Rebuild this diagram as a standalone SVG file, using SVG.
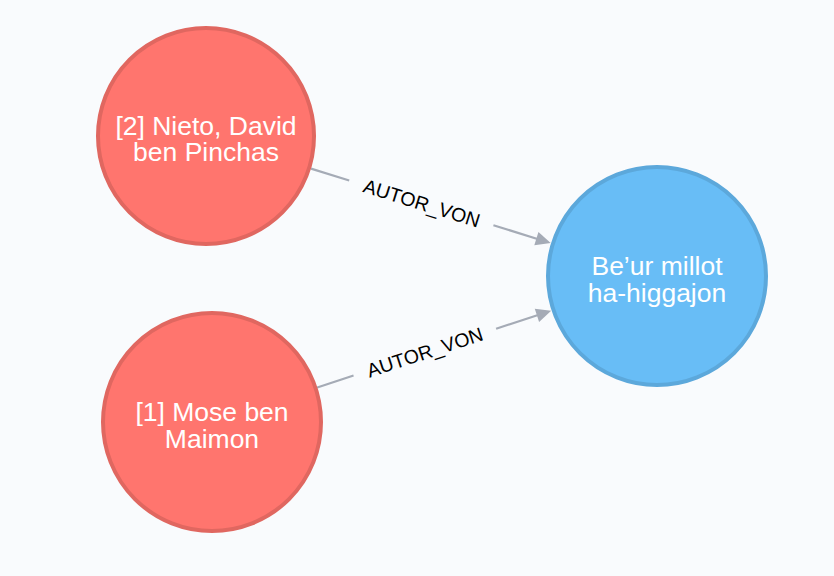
<svg xmlns="http://www.w3.org/2000/svg" width="834" height="576" viewBox="0 0 834 576">
<style>
.bg{fill:#F9FBFD}
.red{fill:#FF756E;stroke:#E06760;stroke-width:4}
.blue{fill:#68BDF6;stroke:#5CA8DB;stroke-width:4}
.cap{font-family:"Liberation Sans",Arial,sans-serif;font-size:26.5px;fill:#FFFFFF;text-anchor:middle}
.shaft{stroke:#A5ABB6;stroke-width:2.2;fill:none}
.head{fill:#A5ABB6}
.rel{font-family:"Liberation Sans",Arial,sans-serif;font-size:19.5px;fill:#000000;text-anchor:middle}
</style>
<rect class="bg" x="0" y="0" width="834" height="576"/>
<g id="connectors">
  <g id="edge1" transform="translate(311,168.6) rotate(17.25)">
    <line class="shaft" x1="0" y1="0" x2="40" y2="0"/>
    <line class="shaft" x1="191" y1="0" x2="238" y2="0"/>
    <polygon class="head" points="251,0 236,-7 236,7"/>
    <text class="rel" x="116" y="7">AUTOR_VON</text>
  </g>
  <g id="edge2" transform="translate(316.5,387.7) rotate(-18.17)">
    <line class="shaft" x1="0" y1="0" x2="39" y2="0"/>
    <line class="shaft" x1="189" y1="0" x2="234" y2="0"/>
    <polygon class="head" points="247,0 232,-7 232,7"/>
    <text class="rel" x="114" y="7">AUTOR_VON</text>
  </g>
</g>
<g id="node-nieto">
  <circle class="red" cx="206" cy="136" r="108"/>
  <text class="cap"><tspan x="206" y="135">[2] Nieto, David</tspan><tspan x="206" y="161">ben Pinchas</tspan></text>
</g>
<g id="node-mose">
  <circle class="red" cx="212" cy="422" r="109"/>
  <text class="cap"><tspan x="212" y="421">[1] Mose ben</tspan><tspan x="212" y="448">Maimon</tspan></text>
</g>
<g id="node-beur">
  <circle class="blue" cx="657" cy="276" r="109"/>
  <text class="cap"><tspan x="657" y="275">Be’ur millot</tspan><tspan x="657" y="302">ha-higgajon</tspan></text>
</g>
</svg>
